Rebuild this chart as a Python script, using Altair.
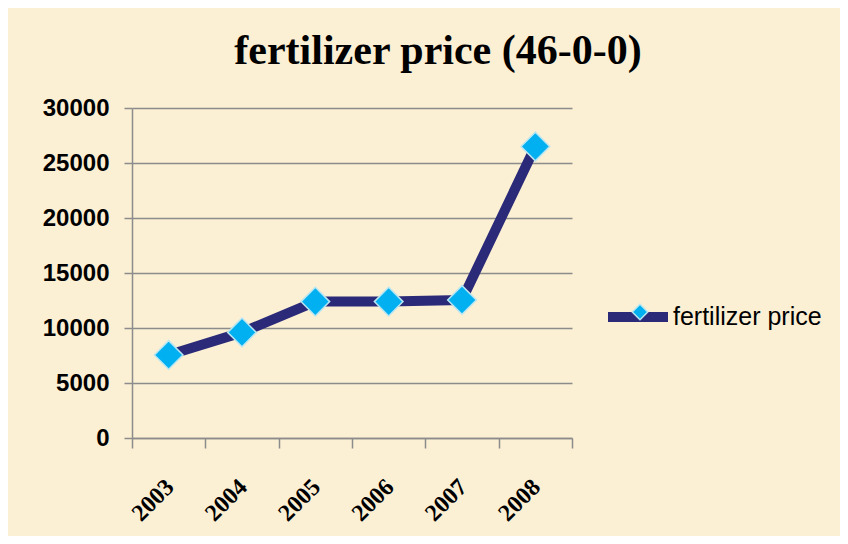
import altair as alt
import pandas as pd

years = ["2003", "2004", "2005", "2006", "2007", "2008"]
prices = [7550, 9600, 12400, 12400, 12550, 26500]
series_name = "fertilizer price"

df = pd.DataFrame({
    "year": years,
    "price": prices,
    "series": [series_name] * len(years),
    "series_pt": [series_name] * len(years),
})

W, H = 440, 330
PAD = {"left": 124, "top": 100, "right": 832 - 124 - W, "bottom": 528 - 100 - H}

GRID = "#8C8C8C"
NAVY = "#2A2A78"
CYAN = "#00B0F0"

x_enc = alt.X(
    "year:N",
    sort=years,
    bandPosition=0.5,
    scale=alt.Scale(type="band", paddingInner=0, paddingOuter=0),
    axis=alt.Axis(
        title=None,
        labelAngle=-45,
        labelAlign="right",
        labelBaseline="middle",
        labelFont="Liberation Serif",
        labelFontWeight="bold",
        labelFontSize=24,
        labelColor="black",
        labelPadding=35,
        labelOffset=1,
        tickBand="extent",
        tickSize=10,
        tickColor=GRID,
        tickWidth=1.5,
        domainColor=GRID,
        domainWidth=1.5,
        grid=False,
    ),
)

y_enc = alt.Y(
    "price:Q",
    scale=alt.Scale(domain=[0, 30000], nice=False),
    axis=alt.Axis(
        title=None,
        values=[0, 5000, 10000, 15000, 20000, 25000, 30000],
        format="d",
        labelFont="Liberation Sans",
        labelFontWeight="bold",
        labelFontSize=24,
        labelColor="black",
        labelPadding=15,
        tickSize=8,
        tickColor=GRID,
        tickWidth=1.5,
        domainColor=GRID,
        domainWidth=1.5,
        grid=True,
        gridColor=GRID,
        gridWidth=1.5,
    ),
)

line = alt.Chart(df).mark_line(strokeWidth=10, strokeJoin="round", strokeCap="round").encode(
    x=x_enc,
    y=y_enc,
    stroke=alt.Stroke(
        "series:N",
        scale=alt.Scale(range=[NAVY]),
        legend=alt.Legend(
            title=None,
            orient="none",
            legendX=471,
            legendY=174,
            padding=0,
            symbolType="stroke",
            symbolSize=3600,
            symbolStrokeWidth=10,
            labelFont="Liberation Sans",
            labelFontSize=25,
            labelColor="black",
            labelOffset=0,
        ),
    ),
)

points = alt.Chart(df).mark_point(
    shape="diamond", size=820, filled=True, opacity=1, stroke="#B8E6F2", strokeWidth=1.5
).encode(
    x=x_enc,
    y=y_enc,
    fill=alt.Fill(
        "series_pt:N",
        scale=alt.Scale(range=[CYAN]),
        legend=alt.Legend(
            title=None,
            orient="none",
            legendX=497,
            legendY=193,
            padding=0,
            symbolType="diamond",
            symbolSize=240,
            symbolStrokeColor="#B8E6F2",
            symbolStrokeWidth=1.5,
            symbolOpacity=1,
            labelExpr="''",
            labelFontSize=22,
        ),
    ),
)

chart = (
    alt.layer(line, points)
    .properties(
        width=W,
        height=H,
        padding=PAD,
        autosize=alt.AutoSizeParams(type="none"),
        background="#FBEFD4",
        title=alt.TitleParams(
            "fertilizer price (46-0-0)",
            font="Liberation Serif",
            fontSize=42,
            fontWeight="bold",
            color="black",
            anchor="middle",
            frame="group",
            dx=86,
            offset=23,
        ),
    )
    .configure_view(stroke=None)
)

chart.save("out.html", embed_options={"renderer": "svg", "actions": False})
